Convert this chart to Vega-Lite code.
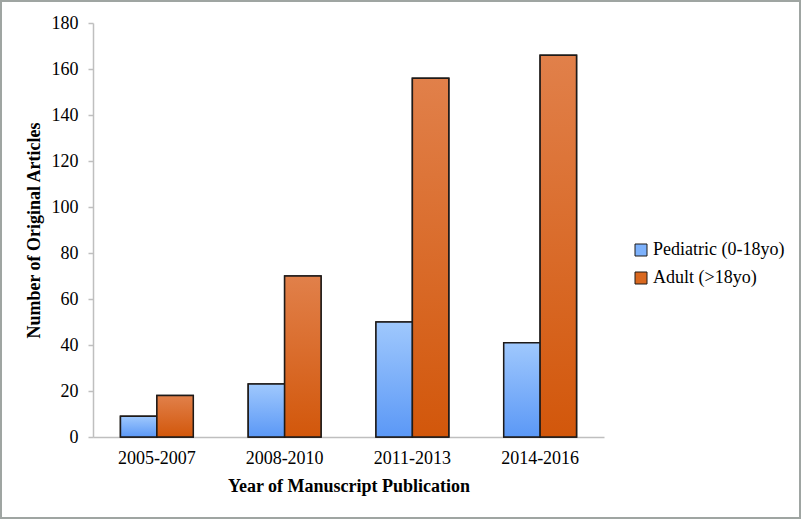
{
  "$schema": "https://vega.github.io/schema/vega-lite/v6.json",
  "width": 799,
  "height": 517,
  "autosize": {"type": "none"},
  "padding": {"left": 1, "top": 1, "right": 2, "bottom": 2},
  "background": "white",
  "data": {
    "values": [
      {"period": "2005-2007", "group": "Pediatric (0-18yo)", "count": 9},
      {"period": "2005-2007", "group": "Adult (>18yo)", "count": 18},
      {"period": "2008-2010", "group": "Pediatric (0-18yo)", "count": 23},
      {"period": "2008-2010", "group": "Adult (>18yo)", "count": 70},
      {"period": "2011-2013", "group": "Pediatric (0-18yo)", "count": 50},
      {"period": "2011-2013", "group": "Adult (>18yo)", "count": 156},
      {"period": "2014-2016", "group": "Pediatric (0-18yo)", "count": 41},
      {"period": "2014-2016", "group": "Adult (>18yo)", "count": 166}
    ]
  },
  "encoding": {
    "x": {
      "field": "period",
      "type": "nominal",
      "sort": null,
      "scale": {"range": [92, 603], "paddingInner": 0.43, "paddingOuter": 0.215},
      "axis": {
        "orient": "bottom",
        "offset": -81,
        "labelAngle": 0,
        "domainColor": "#bfbfbf",
        "domainWidth": 1.5,
        "ticks": false,
        "grid": false,
        "labelFont": "Liberation Serif",
        "labelFontSize": 18,
        "labelColor": "black",
        "labelPadding": 12,
        "title": "Year of Manuscript Publication",
        "titleFont": "Liberation Serif",
        "titleFontSize": 18,
        "titleFontWeight": "bold",
        "titleColor": "black",
        "titlePadding": 10
      }
    },
    "xOffset": {"field": "group", "type": "nominal", "sort": ["Pediatric (0-18yo)", "Adult (>18yo)"]},
    "y": {
      "field": "count",
      "type": "quantitative",
      "scale": {"domain": [0, 180], "range": [436, 22], "nice": false, "zero": true},
      "axis": {
        "orient": "left",
        "offset": -92,
        "values": [0, 20, 40, 60, 80, 100, 120, 140, 160, 180],
        "domainColor": "#bfbfbf",
        "domainWidth": 1.5,
        "tickColor": "#bfbfbf",
        "tickSize": 5,
        "tickWidth": 1.5,
        "grid": false,
        "labelFont": "Liberation Serif",
        "labelFontSize": 18,
        "labelColor": "black",
        "labelPadding": 10,
        "title": "Number of Original Articles",
        "titleFont": "Liberation Serif",
        "titleFontSize": 18,
        "titleFontWeight": "bold",
        "titleColor": "black",
        "titlePadding": 8
      }
    }
  },
  "layer": [
    {
      "mark": {"type": "bar", "stroke": "#1e1a18", "strokeWidth": 1.5},
      "encoding": {
        "color": {
          "field": "group",
          "type": "nominal",
          "sort": ["Pediatric (0-18yo)", "Adult (>18yo)"],
          "scale": {
            "domain": ["Pediatric (0-18yo)", "Adult (>18yo)"],
            "range": ["#7db1fb", "#d9681f"]
          },
          "legend": {
            "orient": "none",
            "legendX": 631,
            "legendY": 240,
            "title": null,
            "padding": 0,
            "labelFont": "Liberation Serif",
            "labelFontSize": 18,
            "labelColor": "black",
            "labelOffset": 3,
            "symbolType": "square",
            "symbolSize": 144,
            "symbolOpacity": 1,
            "symbolStrokeColor": "#1e1a18",
            "symbolStrokeWidth": 1,
            "rowPadding": 10
          }
        }
      }
    },
    {
      "mark": {"type": "bar", "stroke": "#1e1a18", "strokeWidth": 1.5},
      "encoding": {
        "fill": {
          "condition": {
            "test": "datum.group === 'Adult (>18yo)'",
            "value": {"gradient": "linear", "x1": 0, "y1": 0, "x2": 0, "y2": 1, "stops": [{"offset": 0, "color": "#e1804a"}, {"offset": 1, "color": "#d2570b"}]}
          },
          "value": {"gradient": "linear", "x1": 0, "y1": 0, "x2": 0, "y2": 1, "stops": [{"offset": 0, "color": "#9fc8fd"}, {"offset": 1, "color": "#5b98f6"}]}
        }
      }
    }
  ],
  "config": {
    "font": "Liberation Serif",
    "view": {"stroke": "#9fa5a2", "strokeWidth": 2}
  }
}
